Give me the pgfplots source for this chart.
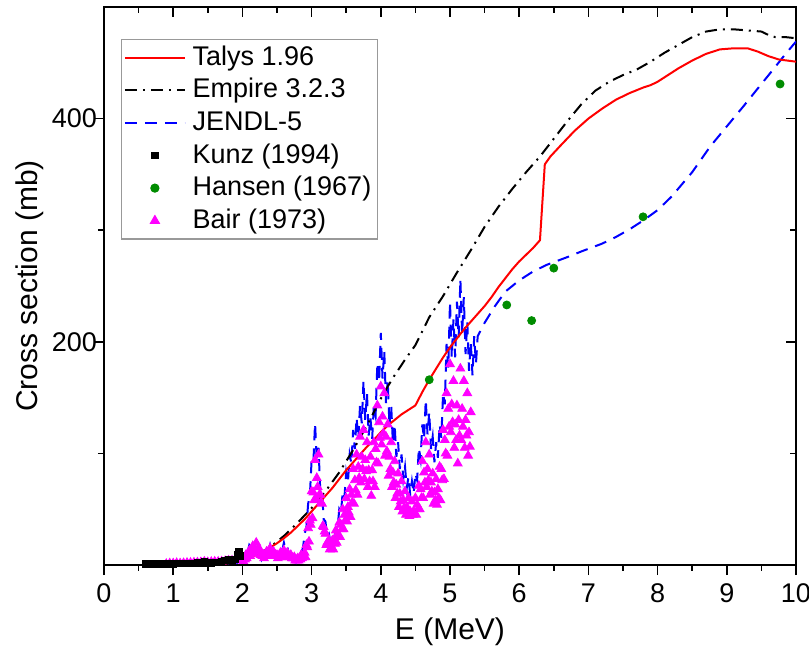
\documentclass[border=0pt]{standalone}
\usepackage{fontspec}
\setmainfont{Liberation Sans}
\usepackage{pgfplots}
\pgfplotsset{compat=1.18}
\definecolor{hgreen}{RGB}{0,140,0}
\definecolor{bmag}{RGB}{255,0,255}
\definecolor{jblue}{RGB}{0,0,255}
\definecolor{tred}{RGB}{255,0,0}
\begin{document}
\begin{tikzpicture}
\path[use as bounding box] (-52pt,-44pt) rectangle (352.5pt,282.5pt);
\pgfplotsset{
 common/.style={
  at={(0,0)}, anchor=south west,
  scale only axis, width=346pt, height=279pt,
  xmin=0, xmax=10, ymin=0, ymax=500,
  xtick={0,1,...,10}, minor xtick={0.5,1.5,...,9.5},
  ytick={200,400}, minor ytick={100,300},
  axis line style={line width=1pt},
  major tick style={line width=0.8pt, black},
  minor tick style={line width=0.8pt, black},
  major tick length=5pt, minor tick length=3pt,
 }
}
\begin{axis}[common, xtick pos=right, ytick pos=right, tick align=inside, xticklabels={}, yticklabels={}]
\end{axis}
\begin{axis}[common, xtick pos=left, ytick pos=left, tick align=outside,
  /pgf/number format/assume math mode=true,
  ticklabel style={font=\fontsize{13.5}{15}\selectfont},
  xticklabel style={yshift=-1pt},
  yticklabel style={xshift=5pt},
  label style={font=\fontsize{15}{18}\selectfont},
  xlabel={E (MeV)}, ylabel={Cross section (mb)},
  xlabel style={at={(axis description cs:0.5,-0.12)}, anchor=center},
  ylabel style={at={(axis description cs:-0.107,0.5)}, anchor=center},
  legend cell align=left,
  legend image code/.code={\draw[mark repeat=2,mark phase=2,#1] plot coordinates {(0pt,0pt) (15pt,0pt) (30pt,0pt)};},
  legend style={at={(0.025,0.943)}, anchor=north west, draw=gray!80, line width=0.6pt,
    font=\fontsize{13.5}{16}\selectfont, inner xsep=1pt, inner ysep=1pt,
    nodes={text height=10pt, text depth=2.5pt, inner sep=1.9pt},
    /tikz/every odd column/.style={column sep=1.5pt}},
]
% Bair (1973)
\addplot[only marks, mark=triangle*, mark size=2.5pt, color=bmag, forget plot] coordinates {
(0.90,1) (0.95,1.5) (1.00,1.5) (1.05,1.8) (1.10,1.5) (1.15,1.7) (1.20,2) (1.25,2) (1.30,2.2) (1.35,2.3) (1.40,2.5) (1.45,3) (1.50,2.5) (1.55,2.8) (1.60,3) (1.65,3) (1.70,3.2) (1.75,3.5) (1.80,4) (1.85,4) (1.90,4.5) (1.95,5)
(2.000,5.5) (2.025,6) (2.050,9) (2.075,9) (2.100,13) (2.125,12) (2.150,17) (2.175,15) (2.200,20) (2.225,14)
(2.250,14) (2.275,9) (2.300,9) (2.325,9) (2.350,12) (2.375,11) (2.400,15) (2.425,11) (2.450,12) (2.475,9)
(2.500,9) (2.525,8) (2.550,11) (2.575,10) (2.600,13) (2.625,10) (2.650,11) (2.675,8) (2.700,9) (2.725,6)
(2.750,7) (2.775,5) (2.800,6) (2.825,6) (2.850,9) (2.875,8) (2.900,11) (2.925,18) (2.950,33) (2.975,40)
(3.000,66) (3.025,65) (3.050,94) (3.075,78) (3.100,99) (3.125,63) (3.150,55) (3.175,34) (3.200,28) (3.225,20)
(3.250,22) (3.275,18) (3.300,22) (3.325,22) (3.350,31) (3.375,28) (3.400,38) (3.425,36) (3.450,50) (3.475,45)
(3.500,60) (3.525,52) (3.550,68) (3.575,63) (3.600,86) (3.625,76) (3.650,99) (3.675,88) (3.700,115) (3.725,97)
(3.750,121) (3.775,94) (3.800,110) (3.825,85) (3.850,97) (3.875,85) (3.900,110) (3.925,104) (3.950,143) (3.975,128)
(4.000,160) (4.025,133) (4.050,154) (4.075,115) (4.100,126) (4.125,97) (4.150,110) (4.175,83) (4.200,93) (4.225,72)
(4.250,82) (4.275,64) (4.300,75) (4.325,58) (4.350,66) (4.375,52) (4.400,60) (4.425,48) (4.450,57) (4.475,48)
(4.500,60) (4.525,54) (4.550,71) (4.575,68) (4.600,93) (4.625,83) (4.650,110) (4.675,86) (4.700,99) (4.725,74)
(4.750,82) (4.775,65) (4.800,77) (4.825,68) (4.850,88) (4.875,86) (4.900,121) (4.925,112) (4.950,154) (4.975,140)
(5.000,180) (5.025,144) (5.050,165) (5.075,126) (5.100,143) (5.125,130) (5.150,176) (5.175,140) (5.200,165) (5.225,130)
(5.250,154) (5.275,119) (5.300,137)
(2.0125,3.5) (2.0375,5) (2.0625,6) (2.0875,8) (2.1125,8) (2.1375,11) (2.1625,10) (2.1875,13) (2.2125,13) (2.2375,12)
(2.2625,9) (2.2875,8) (2.3125,6) (2.3375,8) (2.3625,8) (2.3875,10) (2.4125,10) (2.4375,10) (2.4625,8) (2.4875,8)
(2.5125,6) (2.5375,7) (2.5625,7) (2.5875,9) (2.6125,8) (2.6375,9) (2.6625,7) (2.6875,7) (2.7125,6) (2.7375,6)
(2.7625,4) (2.7875,4) (2.8125,4) (2.8375,5) (2.8625,6) (2.8875,7) (2.9125,7) (2.9375,16) (2.9625,21) (2.9875,36)
(3.0125,42) (3.0375,58) (3.0625,60) (3.0875,70) (3.1125,63) (3.1375,56) (3.1625,35) (3.1875,30) (3.2125,18) (3.2375,18)
(3.2625,14) (3.2875,16) (3.3125,14) (3.3375,19) (3.3625,20) (3.3875,25) (3.4125,25) (3.4375,32) (3.4625,32) (3.4875,40)
(3.5125,39) (3.5375,47) (3.5625,43) (3.5875,56) (3.6125,55) (3.6375,67) (3.6625,63) (3.6875,78) (3.7125,74) (3.7375,86)
(3.7625,77) (3.7875,84) (3.8125,70) (3.8375,75) (3.8625,62) (3.8875,75) (3.9125,70) (3.9375,92) (3.9625,91) (3.9875,114)
(4.0125,108) (4.0375,118) (4.0625,98) (4.0875,102) (4.1125,80) (4.1375,86) (4.1625,70) (4.1875,74) (4.2125,60) (4.2375,64)
(4.2625,52) (4.2875,57) (4.3125,48) (4.3375,51) (4.3625,45) (4.3875,47) (4.4125,44) (4.4375,46) (4.4625,45) (4.4875,46)
(4.5125,45) (4.5375,50) (4.5625,50) (4.5875,60) (4.6125,60) (4.6375,74) (4.6625,70) (4.6875,76) (4.7125,63) (4.7375,66)
(4.7625,55) (4.7875,58) (4.8125,54) (4.8375,60) (4.8625,58) (4.8875,76) (4.9125,77) (4.9375,100) (4.9625,98) (4.9875,124)
(5.0125,119) (5.0375,128) (5.0625,105) (5.0875,112) (5.1125,91) (5.1375,116) (5.1625,112) (5.1875,124) (5.2125,105) (5.2375,116)
(5.2625,98) (5.2875,106)
};
% JENDL-5
\addplot[color=jblue, line width=1pt, dash pattern=on 6pt off 4pt, forget plot] coordinates {
(1.5,0.5) (1.7,1) (1.8,1.5)
(1.900,4) (1.925,1) (1.950,6) (1.975,3) (2.000,8) (2.025,6) (2.050,12) (2.075,11) (2.100,18) (2.125,16)
(2.150,22) (2.175,15) (2.200,16) (2.225,9) (2.250,10) (2.275,5) (2.300,9) (2.325,7) (2.350,14) (2.375,12)
(2.400,18) (2.425,12) (2.450,14) (2.475,7) (2.500,9) (2.525,7) (2.550,14) (2.575,13) (2.600,20) (2.625,14)
(2.650,16) (2.675,9) (2.700,10) (2.725,4) (2.750,7) (2.775,3) (2.800,8) (2.825,6) (2.850,12) (2.875,15)
(2.900,28) (2.925,34) (2.950,55) (2.975,62) (3.000,94) (3.025,91) (3.050,127) (3.075,93) (3.100,105) (3.125,67)
(3.150,66) (3.175,41) (3.200,39) (3.225,26) (3.250,28) (3.275,20) (3.300,25) (3.325,23) (3.350,33) (3.375,33)
(3.400,50) (3.425,47) (3.450,66) (3.475,61) (3.500,83) (3.525,74) (3.550,99) (3.575,91) (3.600,121) (3.625,104)
(3.650,132) (3.675,113) (3.700,143) (3.725,127) (3.750,165) (3.775,130) (3.800,154) (3.825,116) (3.850,132) (3.875,113)
(3.900,143) (3.925,134) (3.950,181) (3.975,164) (4.000,208) (4.025,167) (4.050,192) (4.075,145) (4.100,165) (4.125,125)
(4.150,143) (4.175,109) (4.200,126) (4.225,97) (4.250,110) (4.275,86) (4.300,99) (4.325,77) (4.350,88) (4.375,69)
(4.400,79) (4.425,63) (4.450,75) (4.475,64) (4.500,82) (4.525,76) (4.550,105) (4.575,95) (4.600,126) (4.625,113)
(4.650,148) (4.675,117) (4.700,137) (4.725,104) (4.750,115) (4.775,92) (4.800,110) (4.825,96) (4.850,126) (4.875,114)
(4.900,154) (4.925,144) (4.950,198) (4.975,177) (5.000,236) (5.025,186) (5.050,220) (5.075,186) (5.100,236) (5.125,204)
(5.150,256) (5.175,207) (5.200,240) (5.225,189) (5.250,218) (5.275,174) (5.300,200) (5.325,170) (5.350,205) (5.375,180)
(5.400,205) (5.5,217) (5.65,232) (5.8,245) (6.0,255) (6.2,263) (6.4,269) (6.7,276) (6.9,281) (7.2,288) (7.4,294)
(7.6,301) (7.8,309) (8.0,318) (8.2,330) (8.5,352) (8.76,375) (9.0,393) (9.24,411) (9.5,431) (9.67,444) (9.85,458) (10,469)
};
% Empire 3.2.3
\addplot[color=black, line width=1pt, dash pattern=on 6pt off 3pt on 1pt off 3pt, forget plot] coordinates {
(1.5,0.5) (1.7,1.2) (1.9,3) (2.0,4.5) (2.2,9) (2.4,16) (2.6,26) (2.8,38) (3.0,51) (3.2,66) (3.4,83) (3.6,103)
(3.8,125) (4.0,149) (4.1,160) (4.2,170) (4.35,184) (4.5,197) (4.7,222) (4.9,241) (5.1,262) (5.3,282) (5.5,303)
(5.7,321) (5.9,337) (6.1,352) (6.3,366) (6.5,382) (6.7,398) (6.9,413) (7.1,425) (7.3,433) (7.5,439) (7.7,444)
(7.9,451) (8.1,459) (8.3,466) (8.5,473) (8.7,478) (8.9,480) (9.1,480) (9.3,479) (9.5,478) (9.6,475) (9.7,473)
(9.85,473) (10,472)
};
% Talys 1.96
\addplot[color=tred, line width=1pt, forget plot] coordinates {
(1.5,0.3) (1.6,0.6) (1.7,1.0) (1.8,1.8) (1.9,3) (2.0,4.5) (2.1,6.5) (2.2,9) (2.3,12) (2.4,15.5) (2.5,19.5)
(2.6,24) (2.7,29) (2.8,35) (2.9,41) (3.0,48) (3.1,55) (3.2,62) (3.3,69) (3.4,77) (3.5,85) (3.6,92) (3.7,99)
(3.8,106) (3.9,112) (4.0,119) (4.1,125) (4.2,130) (4.3,135) (4.4,139) (4.5,143) (4.6,155) (4.7,166) (4.8,176)
(4.9,186) (5.0,195) (5.1,203) (5.2,211) (5.3,218) (5.4,225) (5.5,232) (5.6,240) (5.7,249) (5.8,257) (5.9,265)
(6.0,272) (6.1,278) (6.2,284) (6.3,291) (6.37,359) (6.45,366) (6.6,376) (6.8,389) (7.0,400) (7.2,409) (7.4,417)
(7.6,423) (7.8,428) (7.9,430) (8.0,433) (8.1,437) (8.3,445) (8.5,452) (8.7,458) (8.9,462) (9.1,463) (9.3,463)
(9.45,460) (9.6,456) (9.75,453) (10,451)
};
% Kunz (1994)
\addplot[only marks, mark=square*, mark size=1.6pt, color=black, forget plot] coordinates {
(0.60,1) (0.65,1) (0.70,1) (0.75,1) (0.80,1) (0.85,1) (0.90,1) (0.95,1) (1.00,1) (1.05,1.2) (1.10,1.2)
(1.15,1.3) (1.20,1.3) (1.25,1.5) (1.30,1.5) (1.35,1.8) (1.40,2) (1.45,3) (1.50,2) (1.55,2) (1.60,2.2)
(1.65,2.5) (1.70,3) (1.75,4) (1.80,5) (1.85,4) (1.90,5) (1.93,9) (1.95,12) (1.97,8)
};
% Hansen (1967)
\addplot[only marks, mark=*, mark size=2pt, color=hgreen, forget plot] coordinates {
(4.7,166) (5.82,233) (6.18,219) (6.5,266) (7.79,312) (9.77,431)
};
\addlegendimage{color=tred, line width=1pt}
\addlegendentry{Talys 1.96}
\addlegendimage{color=black, line width=1pt, dash pattern=on 6pt off 3pt on 1pt off 3pt}
\addlegendentry{Empire 3.2.3}
\addlegendimage{color=jblue, line width=1pt, dash pattern=on 6pt off 4pt}
\addlegendentry{JENDL-5}
\addlegendimage{only marks, mark=square*, mark size=1.6pt, color=black}
\addlegendentry{Kunz (1994)}
\addlegendimage{only marks, mark=*, mark size=2pt, color=hgreen}
\addlegendentry{Hansen (1967)}
\addlegendimage{only marks, mark=triangle*, mark size=2.5pt, color=bmag}
\addlegendentry{Bair (1973)}
\end{axis}
\end{tikzpicture}
\end{document}
